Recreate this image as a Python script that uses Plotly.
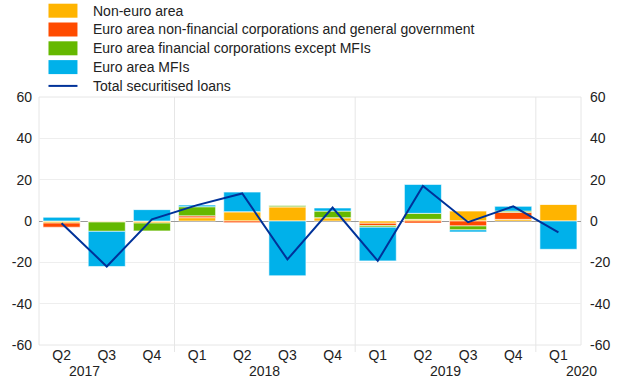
import plotly.graph_objects as go

quarters = ["Q2", "Q3", "Q4", "Q1", "Q2", "Q3", "Q4", "Q1", "Q2", "Q3", "Q4", "Q1"]
years = ["2017", "2018", "2019", "2020"]
year_pos = [0.5, 4.5, 8.5, 11.5]
year_bounds = [2.5, 6.5, 10.5]

non_euro = [-1.0, -0.5, -1.0, 1.6, 4.5, 6.9, 1.6, -1.1, 0.8, 4.8, 0.8, 8.2]
ea_nfc_gg = [-2.0, 0.0, 0.0, 0.9, -0.8, 0.0, 0.0, -1.1, -1.0, -2.4, 3.4, 0.0]
ea_fin = [0.0, -4.5, -3.8, 4.4, 0.0, 0.6, 3.2, -0.8, 2.9, -1.9, 0.6, 0.0]
ea_mfi = [1.8, -17.0, 5.5, 0.8, 9.5, -26.5, 1.5, -16.3, 14.0, -1.0, 2.3, -13.7]
total = [-1.1, -22.0, 0.8, 7.7, 13.3, -18.6, 6.5, -19.3, 16.9, -0.6, 7.1, -5.5]

y_ticks = [-60, -40, -20, 0, 20, 40, 60]
y_tick_labels = ["-60", "-40", "-20", "0", "20", "40", "60"]

series_names = ["Non-euro area",
                "Euro area non-financial corporations and general government",
                "Euro area financial corporations except MFIs",
                "Euro area MFIs"]
series_vals = [non_euro, ea_nfc_gg, ea_fin, ea_mfi]
series_colors = ["#FFB400", "#FF4B00", "#65B800", "#00B1EA"]
line_name = "Total securitised loans"
line_color = "#003299"

x = list(range(len(quarters)))
fig = go.Figure()
for name, vals, col in zip(series_names, series_vals, series_colors):
    fig.add_trace(go.Bar(x=x, y=vals, name=name, marker_color=col,
                         marker_line=dict(width=1, color="rgba(255,255,255,0.6)"),
                         showlegend=False))
fig.add_trace(go.Scatter(x=x, y=total, mode="lines", name=line_name,
                         line=dict(color=line_color, width=2), showlegend=False))
fig.add_trace(go.Scatter(x=[0], y=[0], yaxis="y2", mode="markers",
                         marker=dict(opacity=0), showlegend=False, hoverinfo="skip"))

font = dict(family="Liberation Sans, Arial, sans-serif", size=14, color="#222222")

L, R, T, B = 38.5, 39, 97, 42
W, H = 620, 387
ph = H - T - B
pw = W - L - R

shapes = []
for xb in year_bounds:
    shapes.append(dict(type="line", xref="x", yref="paper", x0=xb, x1=xb, y0=-7 / ph, y1=1,
                       line=dict(color="#e6e6e6", width=1), layer="below"))
shapes.append(dict(type="rect", xref="paper", yref="paper", x0=0, x1=1, y0=0, y1=1,
                   line=dict(color="#e6e6e6", width=1), layer="below"))

annotations = []
for yr, xp in zip(years, year_pos):
    annotations.append(dict(text=yr, x=xp, xref="x", y=0, yref="paper", yshift=-26,
                            showarrow=False, font=font, yanchor="middle", xanchor="center"))

row0, step = 10.7, 18.8
for i, (name, col) in enumerate(zip(series_names, series_colors)):
    yc = row0 + step * i
    shapes.append(dict(type="rect", xref="paper", yref="paper",
                       x0=(48 - L) / pw, x1=(77 - L) / pw,
                       y0=(H - B - (yc + 7)) / ph, y1=(H - B - (yc - 7)) / ph,
                       fillcolor=col, line=dict(width=0)))
    annotations.append(dict(text=name, xref="paper", yref="paper", x=(90.5 - L) / pw,
                            y=(H - B - yc) / ph, xanchor="left", yanchor="middle",
                            showarrow=False, font=font))
yc = row0 + step * 4
shapes.append(dict(type="line", xref="paper", yref="paper", x0=(48 - L) / pw, x1=(77 - L) / pw,
                   y0=(H - B - yc) / ph, y1=(H - B - yc) / ph,
                   line=dict(color=line_color, width=2)))
annotations.append(dict(text=line_name, xref="paper", yref="paper", x=(90.5 - L) / pw,
                        y=(H - B - yc) / ph, xanchor="left", yanchor="middle",
                        showarrow=False, font=font))

fig.update_layout(
    width=W, height=H,
    margin=dict(l=L, r=R, t=T, b=B, pad=0, autoexpand=False),
    barmode="relative", bargap=0.18,
    plot_bgcolor="white", paper_bgcolor="white",
    font=font,
    xaxis=dict(tickmode="array", tickvals=x, ticktext=quarters, range=[-0.5, 11.5],
               showgrid=False, zeroline=False, ticks="", tickfont=font, automargin=False),
    yaxis=dict(range=[-60, 60], tickmode="array", tickvals=y_ticks, ticktext=y_tick_labels,
               showgrid=True, gridcolor="#eeeeee",
               zeroline=True, zerolinecolor="#9a9a9a", zerolinewidth=1, ticks="",
               ticklabelstandoff=6, tickfont=font, automargin=False),
    yaxis2=dict(range=[-60, 60], tickmode="array", tickvals=y_ticks, ticktext=y_tick_labels,
                overlaying="y", side="right",
                showgrid=False, zeroline=False, ticks="", ticklabelstandoff=8, tickfont=font,
                automargin=False),
    shapes=shapes, annotations=annotations, showlegend=False,
)
fig.write_html("out.html", config={"displayModeBar": False},
               post_script="document.body.style.margin='0';document.body.style.overflow='hidden';")
